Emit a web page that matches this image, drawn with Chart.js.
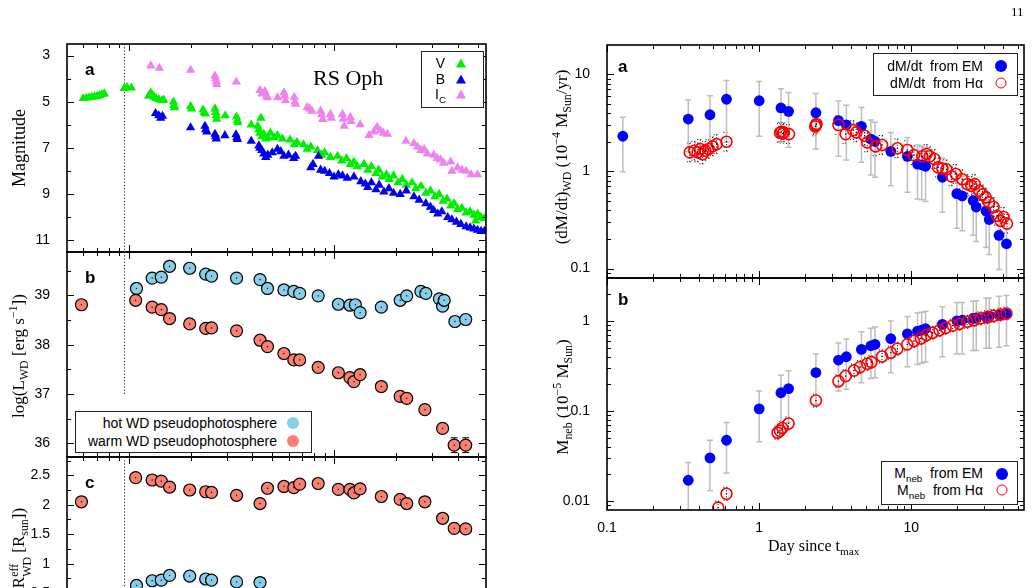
<!DOCTYPE html>
<html>
<head>
<meta charset="utf-8">
<script src="https://cdn.jsdelivr.net/npm/chart.js@4.4.1/dist/chart.umd.min.js"></script>
<style>
html, body { margin: 0; padding: 0; background: #fff; }
body { width: 1034px; height: 588px; overflow: hidden; position: relative; font-family: 'Liberation Sans', Arial, sans-serif; color: #000; }
canvas { position: absolute; left: 0; top: 0; }
.t { position: absolute; white-space: nowrap; line-height: 1; }
.serif { font-family: 'Liberation Serif', 'Times New Roman', serif; }
.rot { transform: translate(-50%, -50%) rotate(-90deg); }
.letter { font-weight: bold; font-size: 17px; }
.box { position: absolute; border: 1px solid #222; background: #fff; }
.lab { position: absolute; white-space: nowrap; line-height: 1; font-size: 14px; transform: translate(-100%, -50%); }
.dot { position: absolute; width: 12px; height: 12px; border-radius: 50%; transform: translate(-50%, -50%); box-sizing: border-box; }
.tri { position: absolute; width: 0; height: 0; border-left: 5px solid transparent; border-right: 5px solid transparent; border-bottom: 9px solid; transform: translate(-50%, -50%); }
sub, sup { font-size: 70%; line-height: 0; }
.ss { display: inline-block; vertical-align: middle; font-size: 70%; line-height: 1.05; text-align: left; }
.ss span { display: block; }
</style>
</head>
<body>
<canvas id="la"></canvas>
<canvas id="lb"></canvas>
<canvas id="lc"></canvas>
<canvas id="ra"></canvas>
<canvas id="rb"></canvas>

<div class="t serif" style="left:1011px;top:5px;font-size:13px">11</div>

<!-- left column texts -->
<div class="t serif rot" style="left:19px;top:148px;font-size:18px">Magnitude</div>
<div class="t serif rot" style="left:18px;top:356px;font-size:17px">log(L<sub>WD</sub> [erg s<sup>&minus;1</sup>])</div>
<div class="t serif rot" style="left:20px;top:548px;font-size:17px">R<span class="ss"><span>eff</span><span>WD</span></span> [R<sub>sun</sub>])</div>
<div class="t letter" style="left:85px;top:61px">a</div>
<div class="t letter" style="left:85px;top:269px">b</div>
<div class="t letter" style="left:85px;top:474px">c</div>
<div class="t serif" style="left:313px;top:67px;font-size:22px">RS Oph</div>

<div class="box" style="left:421px;top:51px;width:61px;height:55px"></div>
<div class="lab" style="left:445px;top:63px">V</div>
<div class="lab" style="left:445px;top:79px">B</div>
<div class="lab" style="left:446px;top:94px">I<sub>C</sub></div>
<div class="tri" style="left:461px;top:63px;border-bottom-color:#00ee00"></div>
<div class="tri" style="left:461px;top:79px;border-bottom-color:#0000ee"></div>
<div class="tri" style="left:461px;top:94px;border-bottom-color:#ee82ee"></div>

<div class="box" style="left:75px;top:411px;width:235px;height:40px"></div>
<div class="lab" style="left:277px;top:423px">hot WD pseudophotosphere</div>
<div class="lab" style="left:277px;top:441px">warm WD pseudophotosphere</div>
<div class="dot" style="left:293px;top:423px;background:#87ceeb"></div>
<div class="dot" style="left:293px;top:441px;background:#fa8072"></div>

<!-- right column texts -->
<div class="t serif rot" style="left:561px;top:157px;font-size:17px">(dM/dt)<sub>WD</sub> (10<sup>&minus;4</sup> M<sub>Sun</sub>/yr)</div>
<div class="t serif rot" style="left:562px;top:397px;font-size:17px">M<sub>neb</sub> (10<sup>&minus;5</sup> M<sub>Sun</sub>)</div>
<div class="t serif" style="left:768px;top:538px;font-size:16px">Day since t<sub>max</sub></div>
<div class="t letter" style="left:618px;top:58px">a</div>
<div class="t letter" style="left:618px;top:291px">b</div>

<div class="box" style="left:873px;top:53px;width:143px;height:41px"></div>
<div class="lab" style="left:983px;top:66px">dM/dt&nbsp; from EM</div>
<div class="lab" style="left:983px;top:83px">dM/dt&nbsp; from H&alpha;</div>
<div class="dot" style="left:1001px;top:66px;background:#0000ff"></div>
<div class="dot" style="left:1001px;top:83px;border:1.5px solid #f00;width:11px;height:11px"></div>

<div class="box" style="left:881px;top:461px;width:135px;height:42px"></div>
<div class="lab" style="left:983px;top:473px">M<sub>neb</sub>&nbsp; from EM</div>
<div class="lab" style="left:983px;top:490px">M<sub>neb</sub>&nbsp; from H&alpha;</div>
<div class="dot" style="left:1002px;top:474px;background:#0000ff"></div>
<div class="dot" style="left:1002px;top:490px;border:1.5px solid #f00;width:11px;height:11px"></div>

<script>
// ---- left column: light curve (days since t_max, log) ----
const V_DAY = [0.6,0.62,0.64,0.66,0.68,0.7,0.72,0.74,0.76, 0.95,0.98,1.03, 1.25,1.28,1.3,1.33,1.36,1.4,1.45,1.48, 1.65,1.66,1.67, 2.0,2.02, 2.3,2.33,2.36, 2.63,2.65,2.67,2.68, 2.95, 3.35,3.38,3.4, 3.95, 4.4, 4.25,4.3,4.35,4.45,4.55,4.65,4.75,
  4.9,5.1,5.3,5.6,6.1,6.4,6.6,7.1,7.4,7.7, 8.3,8.7,9.0,9.6,10.4,10.9,11.5,12.0,12.5,13.0, 14.0,14.6,15.2,16.0,16.5,17.2,18.0,18.6,19.5,20.5,
  21.5,22.5,24.0,25.0,26.5,28.0,29.5,31.0,32.5,34.0, 35.5,37.0,38.5,40.0,42.0,44.0,46.0,48.0,50.0,52.0, 54.0,49.0];
const V_MAG = [4.85,4.84,4.82,4.8,4.78,4.76,4.72,4.68,4.65, 4.42,4.38,4.4, 4.75,4.62,4.7,4.8,4.85,4.9,4.95,4.92, 5.0,5.15,5.25, 5.2,5.3, 5.35,5.45,5.52, 5.3,5.45,5.6,5.75, 5.6, 5.65,5.8,5.9, 6.0, 5.7, 6.05,6.2,6.35,6.5,6.4,6.6,6.55,
  6.35,6.55,6.45,6.6,6.65,6.85,6.75,6.85,7.05,6.95, 7.1,7.3,7.2,7.4,7.35,7.55,7.45,7.7,7.6,7.8, 7.7,7.95,7.8,8.1,7.95,8.25,8.15,8.35,8.2,8.5,
  8.35,8.6,8.5,8.75,8.65,8.95,8.85,9.1,9.0,9.3, 9.2,9.5,9.4,9.65,9.6,9.8,9.75,9.9,9.85,10.0, 10.05,10.15];

const B_DAY = [1.35,1.4,1.43,1.46, 2.0, 2.35,2.37,2.4, 2.63,2.65,2.67, 2.94, 3.33,3.36,3.38, 3.95, 4.3,4.35,4.45,4.55,4.65,4.75,5.0, 5.3,5.5,5.7,6.0,6.36,6.5,
  7.7,7.9,8.4,8.6,9.0,9.5,10.0,10.5,11.0,11.6, 12.5,13.5,14.2,14.6,15.2,16.0,16.6,17.5,18.5,19.5,
  21.0,22.5,24.5,26.0,28.0,29.5,30.6,32.0,33.5,35.8, 37.5,39.5,41.5,44.0,46.0,48.0,50.0,52.0,54.0];
const B_MAG = [5.5,5.6,5.7,5.62, 6.12, 6.05,6.2,6.3, 6.4,6.5,6.6, 6.46, 6.42,6.55,6.62, 6.7, 6.9,7.0,7.1,7.25,7.4,7.3,7.2, 7.05,7.15,7.35,7.3,7.45,7.35,
  7.85,7.7,7.35,7.95,8.0,8.1,8.25,8.15,8.2,8.3, 8.25,8.45,8.55,8.7,8.5,8.8,8.6,8.9,8.75,8.95,
  9.0,8.85,9.1,9.25,9.4,9.55,9.7,9.85,9.75,10.0, 10.1,10.2,10.3,10.4,10.45,10.5,10.55,10.6,10.6];

const IC_DAY = [1.28,1.41,2.0,2.63,2.65,2.67,2.68,3.34,4.36,4.45, 4.6,4.7,4.74,5.3,5.7,5.75,5.8,6.4,6.45,6.5,
  7.4,7.6,7.8,8.6,8.7,8.8,9.6,9.7,11.0,11.1, 11.2,12.0,12.1,13.4,14.8,15.6,16.2,16.8,17.4,18.2,
  22.4,24.5,25.5,26.5,27.5,28.5,30.6,31.8,33.0,34.2, 37.0,37.5,40.0,42.0,44.0,46.5,50.0];
const IC_MAG = [3.44,3.54,3.63,3.88,4.0,4.12,4.24,4.14,4.5,4.65, 4.55,4.75,4.82,4.82,4.6,4.75,4.95,4.8,5.0,5.1,
  5.24,5.3,5.4,5.4,5.55,5.76,5.54,5.7,5.54,5.75, 6.05,5.67,5.85,5.98,6.45,6.3,6.1,6.25,6.35,6.4,
  6.7,6.8,6.95,7.1,7.05,7.25,7.3,7.45,7.5,7.65, 7.6,8.0,7.85,7.95,8.0,8.15,8.15];

// hot / warm pseudophotosphere (panels b and c)
const HOT_DAY = [1.09,1.3,1.44,1.58,1.98,2.37,2.53,3.35,4.36,4.74,5.7,6.37,6.8,8.37,10.5,11.95,12.7,13.4,17.0,21.0,22.6,26.5,28.0,32.6,33.8,34.4,38.8,43.8];
const HOT_LUM = [39.14,39.35,39.37,39.59,39.55,39.43,39.39,39.35,39.32,39.14,39.11,39.08,39.04,38.99,38.82,38.8,38.81,38.65,38.76,38.9,38.99,39.08,39.04,38.93,38.78,38.9,38.47,38.51];
const WARM_DAY = [0.588,1.08,1.3,1.44,1.58,1.98,2.37,2.53,3.35,4.36,4.74,5.7,6.37,6.8,8.37,10.5,11.95,12.5,13.4,17.0,21.0,22.6,27.7,33.8,38.5,43.8];
const WARM_LUM = [38.81,38.9,38.76,38.71,38.53,38.42,38.33,38.34,38.28,38.09,37.96,37.82,37.69,37.69,37.54,37.43,37.33,37.25,37.39,37.15,36.95,36.91,36.68,36.3,35.96,35.96];
const WARM_LUM_ERR = [0,0,0,0,0,0,0,0,0,0,0,0,0,0,0,0,0,0,0,0,0,0,0,0,0.15,0.15];
const WARM_RAD = [2.05,2.46,2.42,2.4,2.3,2.25,2.22,2.21,2.16,2.02,2.28,2.31,2.29,2.35,2.36,2.26,2.26,2.2,2.27,2.14,2.09,2.02,2.05,1.77,1.6,1.59];
const HOT_RAD_DAY = [1.09,1.3,1.44,1.58,1.98,2.37,2.53,3.35,4.36];
const HOT_RAD = [0.63,0.71,0.72,0.8,0.79,0.74,0.72,0.69,0.68];

// ---- right column: mass-loss rate and nebular mass ----
const EM_DAY = [0.127,0.342,0.475,0.61,1.0,1.39,1.56,2.36,3.32,3.74,4.7,5.42,5.77,7.33,9.42,10.98,11.7,12.4,16.0,19.9,21.6,25.5,26.7,31,32.5,37.7,42.2];
const EM_RATE = [2.3,3.46,3.83,5.53,5.34,4.5,4.15,4.02,3.33,3.02,2.91,2.15,2.04,1.61,1.43,1.19,1.17,1.13,0.87,0.59,0.56,0.5,0.43,0.39,0.32,0.22,0.18];
const EM_RATE_HI = [3.6,5.44,6.0,8.6,8.4,7.1,6.5,6.35,5.3,4.8,4.56,3.38,3.2,2.52,2.24,1.87,1.83,1.74,1.37,0.94,0.89,0.78,0.67,0.6,0.5,0.35,0.29];
const EM_RATE_LO = [0.99,1.6,1.7,2.0,2.3,2.0,1.77,1.7,1.43,1.31,1.24,0.92,0.87,0.71,0.61,0.52,0.51,0.49,0.38,0.26,0.245,0.22,0.19,0.165,0.14,0.098,0.05];

const HA_DAY = [0.35,0.375,0.394,0.41,0.424,0.442,0.465,0.494,0.525,0.61, 1.37,1.4,1.43,1.45,1.57, 2.34,2.36,2.38,
  3.32,3.7,4.15,4.35,4.93,5.13,5.83,6.42,8.1,9.4, 10.4,11.8,12.6,13.2,14.2,15.0,16.0,17.0,18.4,19.6,
  21.6,23.3,24.8,26.1,27.9,29.4,30.8,32.4,34.7,36.6, 38.5,40.4,42.5];
const HA_RATE = [1.57,1.63,1.57,1.7,1.5,1.63,1.7,1.81,1.91,2.02, 2.5,2.55,2.45,2.52,2.42, 2.9,3.0,3.08,
  3.0,2.42,2.66,2.52,2.33,1.99,1.81,1.87,1.73,1.66, 1.47,1.43,1.51,1.43,1.34,1.1,1.07,1.05,0.89,0.94,
  0.83,0.74,0.71,0.74,0.63,0.58,0.54,0.48,0.43,0.35, 0.31,0.34,0.29];

const MNEB_DAY = [0.342,0.475,0.61,1.0,1.39,1.56,2.36,3.32,3.74,4.7,5.42,5.77,7.33,9.42,10.98,11.7,12.4,16.0,19.9,21.6,25.5,26.7,31,32.5,37.7,42.2];
const MNEB_EM = [0.0171,0.0303,0.0475,0.106,0.16,0.178,0.268,0.369,0.401,0.484,0.531,0.55,0.636,0.72,0.774,0.79,0.82,0.917,1.0,1.02,1.07,1.08,1.12,1.13,1.16,1.19];
const MNEB_EM_HI = [0.027,0.0475,0.075,0.167,0.25,0.28,0.43,0.57,0.63,0.76,0.83,0.86,1.0,1.12,1.23,1.25,1.28,1.44,1.6,1.6,1.66,1.68,1.8,1.8,1.88,1.92];
const MNEB_EM_LO = [0.004,0.0131,0.0206,0.0457,0.0625,0.075,0.119,0.167,0.175,0.206,0.23,0.235,0.267,0.31,0.33,0.34,0.35,0.40,0.43,0.43,0.47,0.47,0.5,0.5,0.51,0.53];

const MNEB_HA_DAY = [0.538,0.61,1.32,1.37,1.42,1.56,2.36,3.32,3.7,4.2,4.6,5.13,5.47,6.42,7.33,8.1,9.4,
  10.4,11.55,12.6,13.8,15.3,16.8,18.7,20.7,23.3,25.7,28.5,31.5,34.7,38.5,42.2];
const MNEB_HA = [0.0085,0.0121,0.0575,0.0605,0.065,0.073,0.131,0.215,0.245,0.282,0.308,0.335,0.35,0.404,0.445,0.492,0.55,
  0.6,0.64,0.7,0.74,0.79,0.84,0.89,0.93,0.98,1.02,1.07,1.1,1.14,1.18,1.21];

// tick values
const LX_MAJOR = [1, 10];
const LX_MINOR = [0.6,0.7,0.8,0.9,2,3,4,5,6,7,8,9,20,30,40,50];
const RX_MAJOR = [0.1, 1, 10];
const RX_MINOR = [0.2,0.3,0.4,0.5,0.6,0.7,0.8,0.9,2,3,4,5,6,7,8,9,20,30,40,50];
const MAG_TICKS = [3, 5, 7, 9, 11];
const MAG_MINOR = [4, 6, 8, 10];
const LUM_TICKS = [36, 37, 38, 39];
const LUM_MINOR = [36.5, 37.5, 38.5, 39.5];
const RAD_TICKS = [0.5, 1, 1.5, 2, 2.5];
const RAD_MINOR = [0.75, 1.25, 1.75, 2.25, 2.75];
const RATE_TICKS = [0.1, 1, 10];
const RATE_MINOR = [0.09,0.2,0.3,0.4,0.5,0.6,0.7,0.8,0.9,2,3,4,5,6,7,8,9];
const MASS_TICKS = [0.01, 0.1, 1];
const MASS_MINOR = [0.009,0.02,0.03,0.04,0.05,0.06,0.07,0.08,0.09,0.2,0.3,0.4,0.5,0.6,0.7,0.8,0.9,2];

const T_DOTTED = 0.953; // vertical dotted line in the left panels

const pts = (xs, ys) => xs.map((x, i) => ({x, y: ys[i]}));
const FONT = {family: "'Liberation Sans', Arial, sans-serif", size: 14};

// border box + inward ticks on all four sides, and the dotted marker line
const frameLines = {
    id: 'frame',
    beforeDatasetsDraw(chart, args, opts) {
        if (opts.vline == null) return;
        const {ctx, chartArea: a, scales: {x, y}} = chart;
        const px = x.getPixelForValue(opts.vline);
        const bottom = opts.vlineTo != null ? y.getPixelForValue(opts.vlineTo) : a.bottom;
        ctx.save();
        ctx.strokeStyle = '#222';
        ctx.lineWidth = 1;
        ctx.setLineDash([1.2, 2]);
        ctx.beginPath();
        ctx.moveTo(px, a.top);
        ctx.lineTo(px, bottom);
        ctx.stroke();
        ctx.restore();
    },
    afterDraw(chart, args, opts) {
        const {ctx, chartArea: a, scales: {x, y}} = chart;
        ctx.save();
        ctx.strokeStyle = '#000';
        ctx.lineWidth = 1;
        const xt = (vals, len) => vals.forEach(v => {
            const p = Math.round(x.getPixelForValue(v)) + 0.5;
            if (p < a.left || p > a.right) return;
            ctx.beginPath();
            ctx.moveTo(p, a.bottom); ctx.lineTo(p, a.bottom - len);
            ctx.moveTo(p, a.top); ctx.lineTo(p, a.top + len);
            ctx.stroke();
        });
        const yt = (vals, len) => vals.forEach(v => {
            const p = Math.round(y.getPixelForValue(v)) + 0.5;
            if (p < a.top || p > a.bottom) return;
            ctx.beginPath();
            ctx.moveTo(a.left, p); ctx.lineTo(a.left + len, p);
            ctx.moveTo(a.right, p); ctx.lineTo(a.right - len, p);
            ctx.stroke();
        });
        xt(opts.xMajor, 7); xt(opts.xMinor, 4);
        yt(opts.yMajor, 7); yt(opts.yMinor, 4);
        ctx.lineWidth = 1.6;
        ctx.strokeRect(a.left, a.top, a.right - a.left, a.bottom - a.top);
        ctx.restore();
    }
};

// vertical error bars (explicit lo/hi, symmetric err, or a multiplicative factor) + centre dots
const errorBars = {
    id: 'errorBars',
    beforeDatasetsDraw(chart) {
        const {ctx, chartArea: a, scales: {y}} = chart;
        ctx.save();
        ctx.beginPath();
        ctx.rect(a.left, a.top, a.right - a.left, a.bottom - a.top);
        ctx.clip();
        chart.data.datasets.forEach((ds, di) => {
            const e = ds.errorBars;
            if (!e) return;
            const meta = chart.getDatasetMeta(di);
            ctx.strokeStyle = e.color;
            ctx.lineWidth = e.width;
            ctx.setLineDash(e.dash || []);
            ds.data.forEach((p, i) => {
                let lo, hi;
                if (e.factor) { lo = p.y / e.factor; hi = p.y * e.factor; }
                else if (e.sym) { if (!e.sym[i]) return; lo = p.y - e.sym[i]; hi = p.y + e.sym[i]; }
                else { lo = e.lo[i]; hi = e.hi[i]; }
                const px = meta.data[i].x;
                const y0 = y.getPixelForValue(lo), y1 = y.getPixelForValue(hi);
                ctx.beginPath();
                ctx.moveTo(px, y0); ctx.lineTo(px, y1);
                ctx.moveTo(px - e.cap, y0); ctx.lineTo(px + e.cap, y0);
                ctx.moveTo(px - e.cap, y1); ctx.lineTo(px + e.cap, y1);
                ctx.stroke();
            });
        });
        ctx.restore();
    },
    afterDatasetsDraw(chart) {
        const {ctx} = chart;
        chart.data.datasets.forEach((ds, di) => {
            if (!ds.centerDot) return;
            ctx.fillStyle = ds.centerDot;
            chart.getDatasetMeta(di).data.forEach(el => ctx.fillRect(el.x - 0.6, el.y - 0.6, 1.2, 1.2));
        });
    }
};

const fixTicks = list => s => { s.ticks = list.map(v => ({value: v})); };

const yAxis = (type, min, max, ticks, extra) => Object.assign({
    type, min, max,
    afterBuildTicks: fixTicks(ticks),
    afterFit: s => { s.width = 60; },
    grid: {display: false},
    border: {display: false},
    ticks: {font: FONT, color: '#000', padding: 9, callback: v => String(v)},
}, extra || {});

const hiddenX = (min, max) => ({type: 'logarithmic', min, max, display: false});

function panel(id, height, padding, scales, datasets, frame) {
    const el = document.getElementById(id);
    el.width = 1034;
    el.height = height;
    return new Chart(el, {
        type: 'scatter',
        data: {datasets},
        options: {
            responsive: false,
            animation: false,
            events: [],
            layout: {padding},
            plugins: {legend: {display: false}, tooltip: {enabled: false}, frame},
            scales,
        },
        plugins: [frameLines, errorBars],
    });
}

const tri = (data, color) => ({data, pointStyle: 'triangle', pointRadius: 5.4, backgroundColor: color, borderColor: color, borderWidth: 0});
const disc = (data, color, extra) => Object.assign({data, pointStyle: 'circle', pointRadius: 6, backgroundColor: color, borderColor: '#000', borderWidth: 1.2, centerDot: '#000'}, extra || {});
const ring = (data, errorBars) => ({data, errorBars, pointStyle: 'circle', pointRadius: 5.5, backgroundColor: 'rgba(0,0,0,0)', borderColor: '#ff0000', borderWidth: 1.6, centerDot: '#000'});
const blob = (data, errorBars) => ({data, errorBars, pointStyle: 'circle', pointRadius: 5.4, backgroundColor: '#0000ff', borderColor: '#0000ff', borderWidth: 0});

// left a: magnitudes
panel('la', 588, {left: 7, right: 548, top: 44, bottom: 336}, {
    x: hiddenX(0.5, 55),
    y: yAxis('linear', 2.5, 11.5, MAG_TICKS, {reverse: true}),
}, [
    tri(pts(B_DAY, B_MAG), '#0000ee'),
    tri(pts(V_DAY, V_MAG), '#00ee00'),
    tri(pts(IC_DAY, IC_MAG), '#ee82ee'),
], {xMajor: LX_MAJOR, xMinor: LX_MINOR, yMajor: MAG_TICKS, yMinor: MAG_MINOR, vline: T_DOTTED});

// left b: luminosity
panel('lb', 588, {left: 7, right: 548, top: 252, bottom: 131}, {
    x: hiddenX(0.5, 55),
    y: yAxis('linear', 35.72, 39.88, LUM_TICKS),
}, [
    disc(pts(WARM_DAY, WARM_LUM), '#fa8072', {errorBars: {sym: WARM_LUM_ERR, color: '#000', width: 1, cap: 3.5}}),
    disc(pts(HOT_DAY, HOT_LUM), '#87ceeb'),
], {xMajor: LX_MAJOR, xMinor: LX_MINOR, yMajor: LUM_TICKS, yMinor: LUM_MINOR, vline: T_DOTTED, vlineTo: 37});

// left c: effective radius (runs past the bottom of the page)
panel('lc', 640, {left: 7, right: 548, top: 457, bottom: 12}, {
    x: hiddenX(0.5, 55),
    y: yAxis('linear', 0, 2.81, RAD_TICKS),
}, [
    disc(pts(WARM_DAY, WARM_RAD), '#fa8072'),
    disc(pts(HOT_RAD_DAY, HOT_RAD), '#87ceeb'),
], {xMajor: LX_MAJOR, xMinor: LX_MINOR, yMajor: RAD_TICKS, yMinor: RAD_MINOR, vline: T_DOTTED});

// right a: mass-loss rate
panel('ra', 588, {left: 547, right: 10, top: 45, bottom: 310}, {
    x: hiddenX(0.1, 55),
    y: yAxis('logarithmic', 0.08, 20, RATE_TICKS),
}, [
    ring(pts(HA_DAY, HA_RATE), {factor: 1.25, color: '#000', width: 1, dash: [1, 2], cap: 3}),
    blob(pts(EM_DAY, EM_RATE), {lo: EM_RATE_LO, hi: EM_RATE_HI, color: '#bdbdbd', width: 1.5, cap: 3}),
], {xMajor: RX_MAJOR, xMinor: RX_MINOR, yMajor: RATE_TICKS, yMinor: RATE_MINOR});

// right b: nebular mass
panel('rb', 588, {left: 547, right: 10, top: 278, bottom: 48}, {
    x: {
        type: 'logarithmic', min: 0.1, max: 55,
        afterBuildTicks: fixTicks(RX_MAJOR),
        afterFit: s => { s.height = 30; },
        grid: {display: false},
        border: {display: false},
        ticks: {font: FONT, color: '#000', padding: 2, maxRotation: 0, autoSkip: false, callback: v => String(v)},
    },
    y: yAxis('logarithmic', 0.008, 3, MASS_TICKS),
}, [
    ring(pts(MNEB_HA_DAY, MNEB_HA), {factor: 1.18, color: '#000', width: 1, dash: [1, 2], cap: 3}),
    blob(pts(MNEB_DAY, MNEB_EM), {lo: MNEB_EM_LO, hi: MNEB_EM_HI, color: '#bdbdbd', width: 1.5, cap: 3}),
], {xMajor: RX_MAJOR, xMinor: RX_MINOR, yMajor: MASS_TICKS, yMinor: MASS_MINOR});
</script>
</body>
</html>
